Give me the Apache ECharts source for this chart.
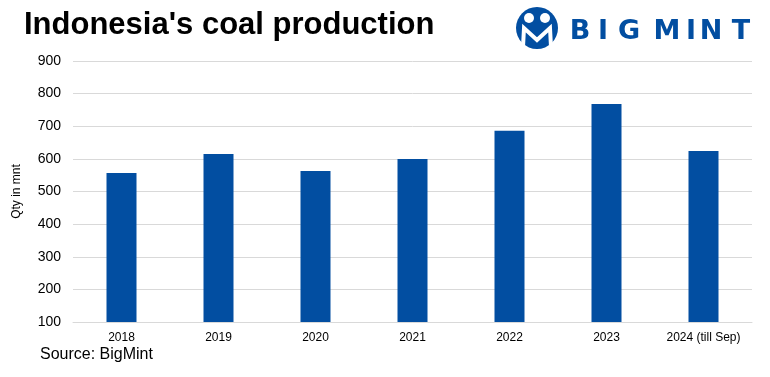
<!DOCTYPE html>
<html>
<head>
<meta charset="utf-8">
<script src="https://cdn.jsdelivr.net/npm/echarts@6/dist/echarts.min.js"></script>
<style>
  html, body { margin: 0; padding: 0; background: #fff; }
  #chart { width: 770px; height: 377px; }
</style>
</head>
<body>
<div id="chart"></div>
<script>
const years = ['2018', '2019', '2020', '2021', '2022', '2023', '2024 (till Sep)'];
const production = [557, 615, 563, 600, 686, 768, 624];
const yTicks = { min: 100, max: 900, step: 100 };

const BLUE = '#024ea1';
const chart = echarts.init(document.getElementById('chart'));

// logo letters, spaced out like the brand mark (x = letter centre)
const logoLetters = [['B', 580], ['I', 603], ['G', 629], ['M', 667], ['I', 691], ['N', 711], ['T', 741]];
const logoText = logoLetters.map(([ch, x]) => ({
  type: 'text',
  style: { text: ch, x: x, y: 32, align: 'center', verticalAlign: 'middle',
           fill: BLUE, font: 'bold 27px "DejaVu Sans"' }
}));

chart.setOption({
  animation: false,
  grid: { left: 73, right: 18, top: 61, bottom: 55 },
  title: {
    text: "Indonesia's coal production",
    left: 19, top: 5,
    textStyle: { fontFamily: 'Liberation Sans', fontWeight: 'bold', fontSize: 31, color: '#000' }
  },
  graphic: [
    // logo icon
    { type: 'circle', shape: { cx: 537, cy: 28, r: 21 }, style: { fill: BLUE } },
    { type: 'circle', shape: { cx: 529, cy: 18, r: 5 }, style: { fill: '#fff' } },
    { type: 'circle', shape: { cx: 545, cy: 18, r: 5 }, style: { fill: '#fff' } },
    { type: 'polyline', shape: { points: [[523, 47], [524, 28], [537, 40], [550, 28], [551, 47]] },
      style: { stroke: '#fff', lineWidth: 4, fill: null } },
    ...logoText,
    { type: 'text', left: 40, top: 347,
      style: { text: 'Source: BigMint', fill: '#000', font: '16px "Liberation Sans Narrow", "Liberation Sans"' } }
  ],
  xAxis: {
    type: 'category',
    data: years,
    axisLine: { lineStyle: { color: '#d9d9d9' } },
    axisTick: { show: false },
    axisLabel: { interval: 0, color: '#000', fontSize: 12, margin: 10, fontFamily: '"Liberation Sans Narrow", "Liberation Sans"' }
  },
  yAxis: {
    type: 'value',
    min: yTicks.min, max: yTicks.max, interval: yTicks.step,
    name: 'Qty in mnt',
    nameLocation: 'middle',
    nameGap: 50,
    nameTextStyle: { color: '#000', fontSize: 12, fontFamily: 'Liberation Sans' },
    axisLine: { show: false },
    axisTick: { show: false },
    axisLabel: { color: '#000', fontSize: 14, margin: 12, fontFamily: 'Liberation Sans' },
    splitLine: { lineStyle: { color: '#d9d9d9' } }
  },
  series: [{
    type: 'bar',
    data: production,
    barWidth: 30,
    itemStyle: { color: BLUE }
  }]
});
</script>
</body>
</html>
